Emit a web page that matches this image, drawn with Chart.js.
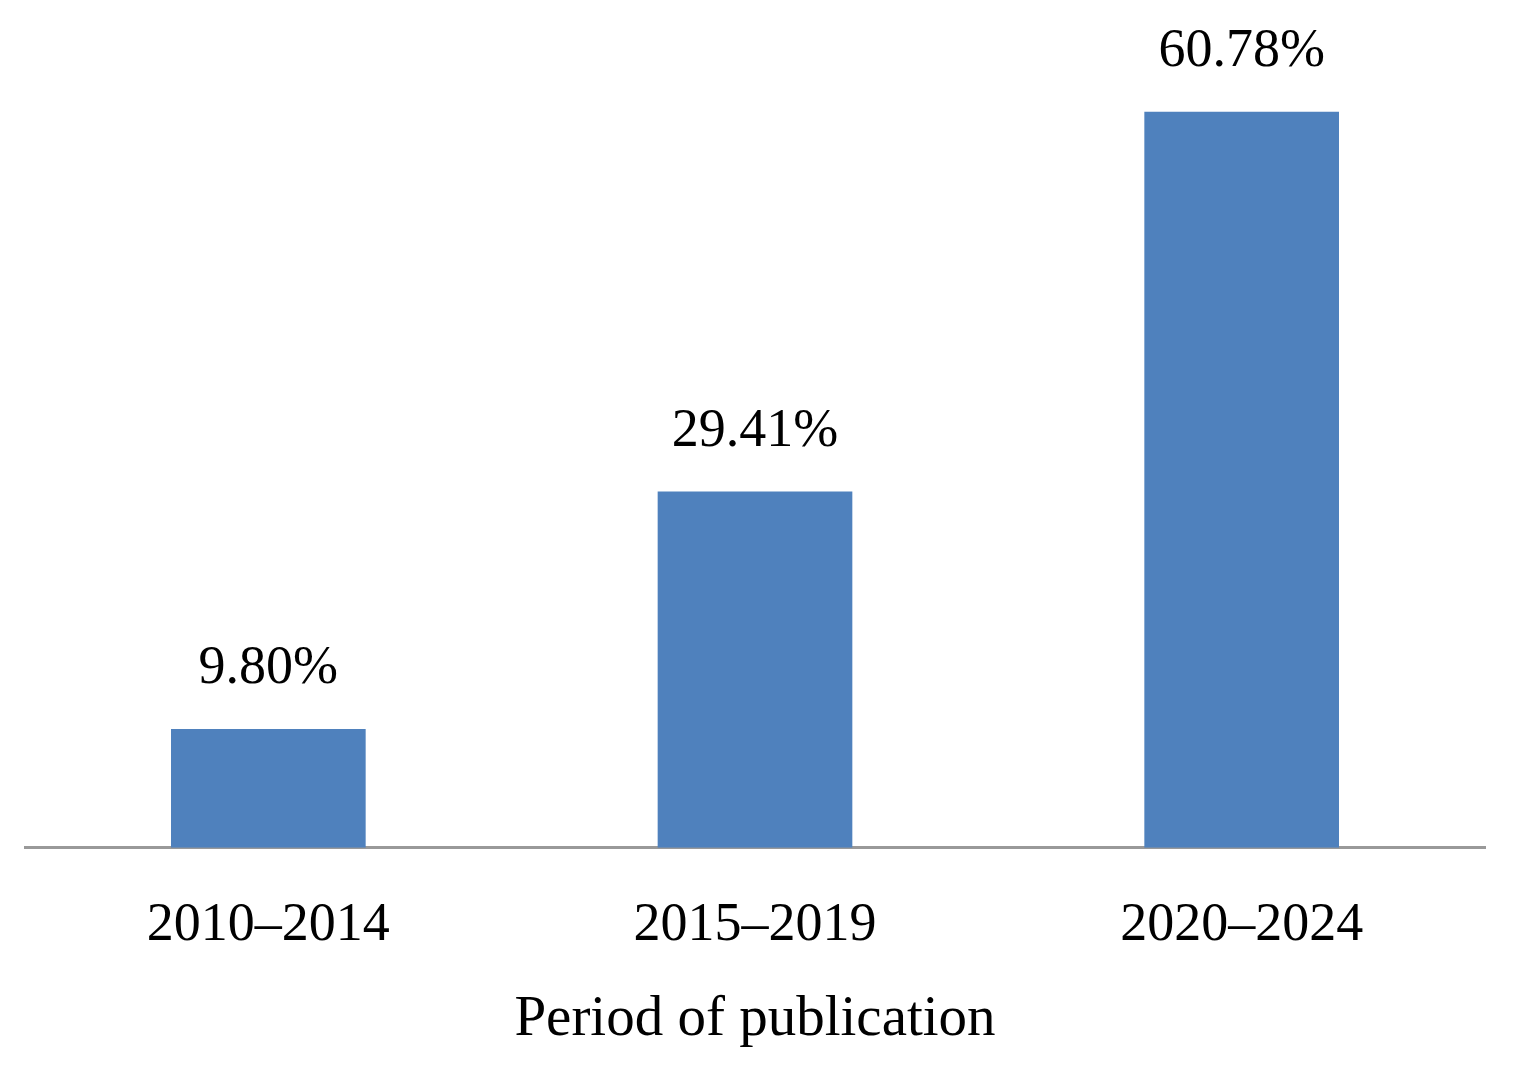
<!DOCTYPE html>
<html>
<head>
<meta charset="utf-8">
<script src="https://cdn.jsdelivr.net/npm/chart.js@4"></script>
<style>
  html, body { margin: 0; padding: 0; background: #fff; }
  #wrap { width: 1515px; height: 1075px; }
</style>
</head>
<body>
<div id="wrap"><canvas id="myChart"></canvas></div>
<script>
const periods = ["2010\u20132014", "2015\u20132019", "2020\u20132024"];
const shares = [9.80, 29.41, 60.78];

const serif = "'Liberation Serif', 'DejaVu Serif', serif";

// draws the percentage above each bar
const valueLabels = {
    id: "valueLabels",
    afterDatasetsDraw(chart) {
        const ctx = chart.ctx;
        const meta = chart.getDatasetMeta(0);
        ctx.save();
        ctx.font = "54px " + serif;
        ctx.fillStyle = "#000";
        ctx.textAlign = "center";
        ctx.textBaseline = "alphabetic";
        meta.data.forEach((bar, i) => {
            ctx.fillText(shares[i].toFixed(2) + "%", bar.x, bar.y - 46);
        });
        ctx.restore();
    }
};

const config = {
    type: "bar",
    data: {
        labels: periods,
        datasets: [{
            data: shares,
            backgroundColor: "#4F81BD",
            barPercentage: 0.4,
            categoryPercentage: 1
        }]
    },
    options: {
        animation: false,
        responsive: true,
        maintainAspectRatio: false,
        layout: {
            padding: { left: 25, right: 30, top: 0, bottom: 21 }
        },
        plugins: {
            legend: { display: false },
            tooltip: { enabled: false }
        },
        scales: {
            x: {
                grid: { display: false },
                border: { display: true, color: "#999999", width: 3 },
                ticks: {
                    color: "#000",
                    padding: 38,
                    font: { family: serif, size: 54, lineHeight: 1.2 }
                },
                title: {
                    display: true,
                    text: "Period of publication",
                    color: "#000",
                    padding: { top: -11, bottom: 0 },
                    font: { family: serif, size: 57, lineHeight: 1.2 }
                }
            },
            y: {
                display: false,
                min: 0,
                max: 70
            }
        }
    },
    plugins: [valueLabels]
};

myChart = new Chart(document.getElementById("myChart"), config);
</script>
</body>
</html>
